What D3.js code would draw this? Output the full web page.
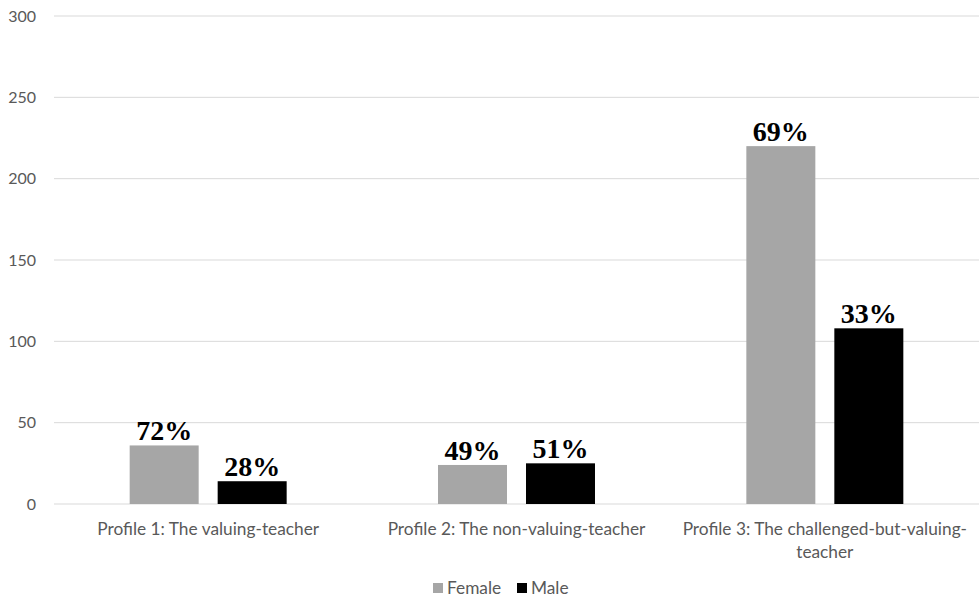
<!DOCTYPE html>
<html>
<head>
<meta charset="utf-8">
<script src="https://cdn.jsdelivr.net/npm/d3@7"></script>
<style>
  html, body { margin: 0; padding: 0; background: #fff; }
  svg { display: block; }
</style>
</head>
<body>
<svg id="chart" width="979" height="600"></svg>
<script>
const categories = [
  "Profile 1: The valuing-teacher",
  "Profile 2: The non-valuing-teacher",
  "Profile 3: The challenged-but-valuing-teacher"
];
const seriesNames = ["Female", "Male"];
const femaleValues = [36, 24, 220];
const maleValues = [14, 25, 108];
const femaleLabels = ["72%", "49%", "69%"];
const maleLabels = ["28%", "51%", "33%"];
const yTicks = [0, 50, 100, 150, 200, 250, 300];
const colors = { Female: "#a6a6a6", Male: "#000000" };

const svg = d3.select("#chart");
const W = 979, H = 600;
const margin = { left: 54, right: 0, top: 16, bottom: 96 };
const plotBottom = 504;

const x0 = d3.scaleBand().domain(categories).range([margin.left, W - margin.right]).padding(0);
const x1 = d3.scaleBand().domain(seriesNames).range([0, x0.bandwidth()])
  .paddingInner(19 / 88).paddingOuter(0.86);
const y = d3.scaleLinear().domain([0, 300]).range([plotBottom, margin.top]);

// gridlines
svg.append("g").selectAll("line").data(yTicks).join("line")
  .attr("x1", margin.left).attr("x2", W - margin.right)
  .attr("y1", d => y(d)).attr("y2", d => y(d))
  .attr("stroke", "#d9d9d9").attr("stroke-width", 1);

// y axis labels
const yAxis = d3.axisLeft(y).tickValues(yTicks).tickSize(0).tickPadding(18);
const yg = svg.append("g").attr("transform", `translate(${margin.left},0)`).call(yAxis);
yg.select(".domain").remove();
yg.selectAll("text").attr("font-family", "Lato, 'Open Sans', sans-serif")
  .attr("font-size", 16).attr("fill", "#595959");

const rows = categories.map((c, i) => ({
  cat: c,
  items: [
    { s: "Female", v: femaleValues[i], label: femaleLabels[i] },
    { s: "Male", v: maleValues[i], label: maleLabels[i] }
  ]
}));

const groups = svg.append("g").selectAll("g").data(rows).join("g")
  .attr("transform", d => `translate(${x0(d.cat)},0)`);

groups.selectAll("rect").data(d => d.items).join("rect")
  .attr("x", d => x1(d.s)).attr("width", x1.bandwidth())
  .attr("y", d => y(d.v)).attr("height", d => y(0) - y(d.v))
  .attr("fill", d => colors[d.s]);

groups.selectAll("text.val").data(d => d.items).join("text")
  .attr("class", "val")
  .attr("x", d => x1(d.s) + x1.bandwidth() / 2)
  .attr("y", d => y(d.v) - 5)
  .attr("text-anchor", "middle")
  .attr("font-family", "'Liberation Serif', 'Times New Roman', serif")
  .attr("font-weight", "bold").attr("font-size", 28).attr("fill", "#000")
  .text(d => d.label);

// x axis labels
const xAxis = d3.axisBottom(x0).tickSize(0).tickPadding(19);
const xg = svg.append("g").attr("transform", `translate(0,${plotBottom})`).call(xAxis);
xg.select(".domain").remove();
xg.selectAll("text").attr("font-family", "Lato, 'Open Sans', sans-serif")
  .attr("font-size", 17.3).attr("fill", "#595959")
  .call(wrap, 295);

function wrap(texts, width) {
  texts.each(function () {
    const text = d3.select(this);
    const raw = text.text();
    const tokens = raw.match(/[^\s-]+-?/g);
    const words = [];
    let pos = 0;
    tokens.forEach(t => {
      const idx = raw.indexOf(t, pos);
      pos = idx + t.length;
      words.push({ t, space: raw[pos] === " " });
    });
    const yAttr = text.attr("y"), dy = parseFloat(text.attr("dy")) || 0;
    text.text(null);
    let line = "";
    let lineNo = 0;
    let tspan = text.append("tspan").attr("x", 0).attr("y", yAttr).attr("dy", dy + "em");
    words.forEach((w, i) => {
      const prev = i > 0 && words[i - 1].space ? " " : "";
      const test = line + (line ? prev : "") + w.t;
      tspan.text(test);
      if (tspan.node().getComputedTextLength() > width && line) {
        tspan.text(line);
        line = w.t;
        lineNo++;
        tspan = text.append("tspan").attr("x", 0).attr("y", yAttr)
          .attr("dy", (lineNo * 1.3 + dy) + "em").text(line);
      } else {
        line = test;
      }
    });
  });
}

// legend
const legend = svg.append("g").attr("transform", "translate(433,588)");
const legItems = [{ s: "Female", x: 0 }, { s: "Male", x: 84 }];
legItems.forEach(it => {
  legend.append("rect").attr("x", it.x).attr("y", -5).attr("width", 10).attr("height", 10)
    .attr("fill", colors[it.s]);
  legend.append("text").attr("x", it.x + 14).attr("y", 0).attr("dy", "0.35em")
    .attr("font-family", "Lato, 'Open Sans', sans-serif").attr("font-size", 17.3)
    .attr("fill", "#595959").text(it.s);
});
</script>
</body>
</html>
